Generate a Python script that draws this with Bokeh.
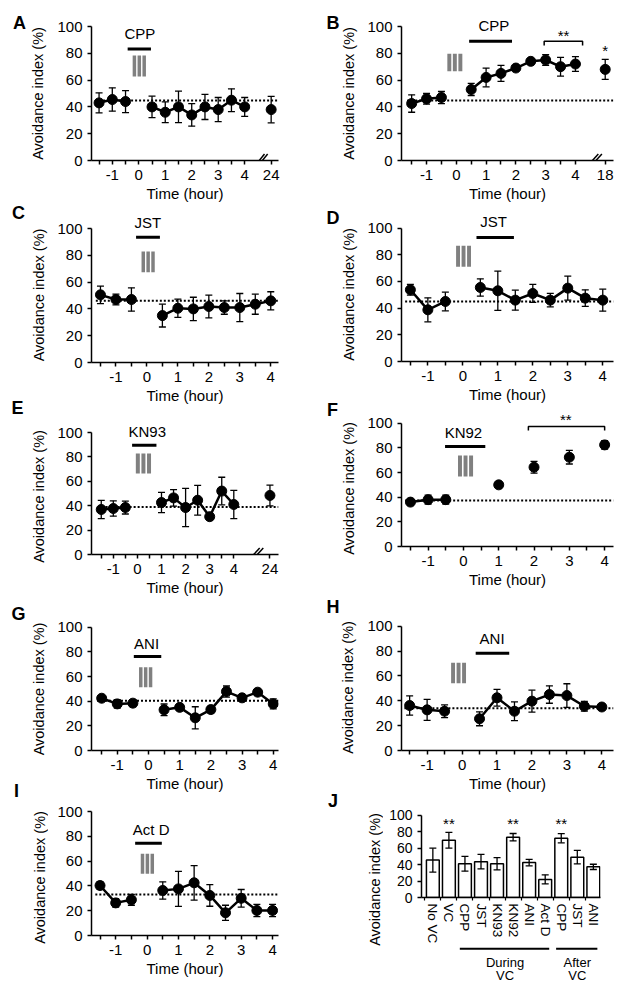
import numpy as np
from bokeh.plotting import figure
from bokeh.models import Range1d, FixedTicker, ColumnDataSource, Whisker, TeeHead
from bokeh.layouts import row, column
from bokeh.embed import file_html
from bokeh.resources import INLINE
from bokeh.core.properties import value

FONT = "Liberation Sans"
GRAY = "#808080"

# ---------------- data ----------------
hours = [-1.5, -1, -0.5, 0.5, 1, 1.5, 2, 2.5, 3, 3.5, 4]
hour_ticks = [-1.5, -1, -0.5, 0, 0.5, 1, 1.5, 2, 2.5, 3, 3.5, 4]
hour_labels = ["", "-1", "", "0", "", "1", "", "2", "", "3", "", "4"]
y_ticks = [0, 20, 40, 60, 80, 100]
Y_LABEL = "Avoidance index (%)"
X_LABEL = "Time (hour)"

A_mean = [43, 45.5, 44, 40, 36, 40, 34, 40, 38, 45, 40]
A_err = [7.5, 8.7, 8.2, 8, 7.7, 11.8, 8.4, 9.4, 9, 8.5, 7]
A_late_label, A_late_mean, A_late_err = "24", 38, 9.9
A_base = 44.8

B_mean = [42.5, 46, 47, 53, 62, 65, 69, 74, 75, 70, 72]
B_err = [6.5, 4, 4.5, 4.5, 7, 6, 2, 2, 4, 7, 5.5]
B_late_label, B_late_mean, B_late_err = "18", 68, 7.5
B_base = 44.8

C_mean = [50.5, 47, 47, 35, 40.5, 40, 41.8, 41, 41, 43.5, 46]
C_err = [6.5, 4, 8.7, 8.5, 6.8, 8.7, 8.5, 5, 10.5, 7.5, 6.8]
C_base = 46

D_mean = [53.75, 38.75, 45, 55.5, 53, 46, 51, 46, 55, 47.5, 46]
D_err = [4, 9, 7, 6.5, 14.75, 7.5, 6.75, 5, 9, 6.25, 8.25]
D_base = 45

E_hours = [-1.5, -1, -0.5, 1, 1.5, 2, 2.5, 3, 3.5, 4]
E_mean = [36.9, 37.7, 38.5, 42.6, 46.4, 38.5, 44.5, 31, 52, 41]
E_err = [7.5, 6.3, 5.3, 8.3, 6.8, 15.7, 12.2, 1.5, 11.3, 11.6]
E_late_label, E_late_mean, E_late_err = "24", 48.4, 8.5
E_base = 39

F_hours = [-1.5, -1, -0.5, 1, 2, 3, 4]
F_mean = [36, 38, 38, 50, 64.3, 72.4, 82.4]
F_err = [1.7, 3.7, 3.7, 1.7, 4.8, 5.5, 3.5]
F_base = 37.3

G_mean = [42.4, 37.8, 38.4, 33, 35, 26.5, 33.2, 47.8, 42.7, 47.3, 37.8]
G_err = [1.8, 3.4, 2.8, 4.7, 1.5, 9, 2.8, 4.5, 1.5, 2.5, 4.1]
G_base = 40.3

H_mean = [36.2, 32.7, 31.6, 25.5, 42.4, 31.6, 39.7, 45, 44.2, 35.6, 35]
H_err = [7.7, 8.4, 5.1, 5.6, 6.7, 7.5, 8.8, 7, 9.5, 4, 2.7]
H_base = 34

I_mean = [40.3, 26.3, 28.8, 36.3, 37.6, 42.5, 32.3, 18.3, 30, 20.2, 20.2]
I_err = [3.1, 3.4, 4.4, 7, 14.1, 13.9, 8.7, 6.1, 7.1, 4.9, 4.9]
I_base = 33

J_names = ["No VC", "VC", "CPP", "JST", "KN93", "KN92", "ANI", "Act D", "CPP", "JST", "ANI"]
J_mean = [45.4, 69.5, 41, 43.5, 41, 73.2, 42.4, 22, 72, 49, 37.2]
J_err = [14.5, 9.5, 9, 8.8, 7.5, 4.5, 3.9, 5.5, 5.6, 8.2, 3.2]
J_sig = ["", "**", "", "", "", "**", "", "", "**", "", ""]
J_groups = [("During", "VC", 3, 8), ("After", "VC", 9, 11)]

# ---------------- layout geometry (page pixels) ----------------
GEOM = {
    "A": dict(fig=(48, 0, 267, 206), fl=88, fr=302, y0=160, y100=26, x0=142.1, pxh=30.3),
    "C": dict(fig=(48, 206, 267, 201), fl=88, fr=303, y0=362, y100=228, x0=151.7, pxh=35.6),
    "E": dict(fig=(48, 407, 267, 193), fl=90.7, fr=278.3, y0=554.3, y100=432.3, x0=136.9, pxh=24.1),
    "G": dict(fig=(48, 600, 267, 196), fl=90.7, fr=305, y0=750, y100=626.7, x0=156.2, pxh=35.7),
    "I": dict(fig=(48, 796, 267, 196), fl=90.7, fr=305, y0=935, y100=811, x0=154.6, pxh=35.9),
    "B": dict(fig=(359, 0, 270, 206), fl=398.3, fr=613, y0=160, y100=26, x0=453.6, pxh=30.2),
    "D": dict(fig=(359, 206, 270, 200), fl=401, fr=616.7, y0=360.7, y100=227.3, x0=463.5, pxh=35.64),
    "F": dict(fig=(359, 406, 270, 186), fl=401, fr=615, y0=546, y100=422.7, x0=463.5, pxh=35.64),
    "H": dict(fig=(359, 592, 270, 203), fl=401, fr=616.7, y0=750, y100=625.7, x0=462.7, pxh=35.6),
    "J": dict(fig=(383, 795, 246, 151), fl=421, fr=600, y0=905.7, y100=816, x0=416.3, pxh=16.05),
}


def base_fig(g):
    left, top, w, h = g["fig"]
    mbl = int(round(g["fl"] - left))
    mbr = int(round(left + w - g["fr"]))
    mbt = 1
    mbb = int(round(top + h - g["y0"]))
    scale = (g["y0"] - g["y100"]) / 100.0
    ymax = (h - mbt - mbb) / scale
    fl = left + mbl
    fr = left + w - mbr
    xs = (fl - g["x0"]) / g["pxh"]
    xe = (fr - g["x0"]) / g["pxh"]
    p = figure(width=w, height=h, x_range=Range1d(xs, xe), y_range=Range1d(0, ymax),
               min_border_left=mbl, min_border_right=mbr, min_border_top=mbt,
               min_border_bottom=mbb, toolbar_location=None, output_backend="svg")
    p.outline_line_color = None
    p.grid.visible = False
    p.background_fill_color = "white"
    p.border_fill_color = "white"
    for ax in p.axis:
        ax.axis_line_width = 1.5
        ax.axis_line_color = "black"
        ax.major_tick_line_width = 1.5
        ax.major_tick_line_color = "black"
        ax.minor_tick_line_color = None
        ax.major_tick_in = 0
        ax.major_tick_out = 4
        ax.major_label_text_font = FONT
        ax.major_label_text_font_size = "15px"
        ax.major_label_text_color = "black"
        ax.axis_label_text_font = FONT
        ax.axis_label_text_font_size = "15px"
        ax.axis_label_text_font_style = "normal"
        ax.axis_label_text_color = "black"
    p.yaxis.ticker = FixedTicker(ticks=y_ticks, minor_ticks=[])
    p.yaxis.bounds = (0, 100)
    p.yaxis.major_label_standoff = 5
    return p, scale


def add_text(p, x, y, t, size="15px"):
    p.text(x=[x], y=[y], text=[t], text_align="center", text_baseline="middle",
           text_font=value(FONT), text_font_size=size, text_color="black")


def time_panel(key, t, mean, err, base, ann, late=None, connect_post=True):
    g = GEOM[key]
    p, scale = base_fig(g)
    pxh = g["pxh"]
    ticks = list(hour_ticks)
    labels = dict(zip(hour_ticks, hour_labels))
    if late is not None:
        ticks.append(late["pos"])
        labels[late["pos"]] = late["label"]
    p.xaxis.ticker = FixedTicker(ticks=ticks, minor_ticks=[])
    p.xaxis.major_label_overrides = labels
    p.xaxis.axis_label = X_LABEL
    p.xaxis.major_label_standoff = 5
    p.xaxis.axis_label_standoff = 2

    t = np.array(t, float)
    m = np.array(mean, float)
    e = np.array(err, float)

    # baseline (dotted)
    p.segment(x0=[t[0] - 0.15], x1=[p.x_range.end], y0=[base], y1=[base],
              line_dash="2 2", line_width=2, line_color="black")

    # error bars
    allx = list(t)
    allm = list(m)
    alle = list(e)
    if late is not None:
        allx.append(late["pos"]); allm.append(late["mean"]); alle.append(late["err"])
    allx = np.array(allx); allm = np.array(allm); alle = np.array(alle)
    src = ColumnDataSource(dict(x=allx, lo=allm - alle, hi=allm + alle))
    w = Whisker(source=src, base="x", lower="lo", upper="hi", line_width=1.3, line_color="black",
                upper_head=TeeHead(size=7, line_width=1.3, line_color="black"),
                lower_head=TeeHead(size=7, line_width=1.3, line_color="black"))
    p.add_layout(w)

    pre = t < 0
    post = t > 0
    p.line(t[pre], m[pre], line_width=2.5, line_color="black")
    if connect_post:
        p.line(t[post], m[post], line_width=2.5, line_color="black")
    p.scatter(allx, allm, size=10, fill_color="black", line_color="black")

    # drug bar and label
    x0, x1, yb = ann["bar"]
    p.segment(x0=[x0], x1=[x1], y0=[yb], y1=[yb], line_width=3, line_color="black")
    tx, ty = ann["text_xy"]
    add_text(p, tx, ty, ann["drug"])
    # vibration symbol (III)
    cx, yb0, yb1 = ann["vib"]
    for k in (-1, 0, 1):
        c = cx + k * 5.6 / pxh
        p.quad(left=[c - 2.0 / pxh], right=[c + 2.0 / pxh], bottom=[yb0], top=[yb1],
               fill_color=GRAY, line_color=None)
    # significance bracket
    if "bracket" in ann:
        bx0, bx1, btop, blow = ann["bracket"]
        p.line([bx0, bx0, bx1, bx1], [blow, btop, btop, blow], line_width=1.5, line_color="black")
    for (sx, sy, st) in ann.get("stars", []):
        add_text(p, sx, sy, st)
    # axis break marks
    if "break" in ann:
        xb = ann["break"]
        for k in (0, 1):
            off = (k * 3.6 - 1.8) / pxh
            p.segment(x0=[xb + off - 6 / pxh], y0=[-6.5 / scale],
                      x1=[xb + off + 6 / pxh], y1=[6.5 / scale],
                      line_width=1.5, line_color="black")
    return p


pA = time_panel("A", hours, A_mean, A_err, A_base,
                dict(drug="CPP", bar=(-0.42, 0.46, 83.3), text_xy=(0.04, 94.5),
                     vib=(0.02, 62.7, 78.4), **{"break": 4.61}),
                late=dict(pos=5, label=A_late_label, mean=A_late_mean, err=A_late_err))
pB = time_panel("B", hours, B_mean, B_err, B_base,
                dict(drug="CPP", bar=(0.43, 1.87, 89), text_xy=(1.26, 100.7),
                     vib=(-0.05, 66.6, 79.6), bracket=(2.95, 4.24, 89, 85.8),
                     stars=[(3.6, 93.2, "**"), (5.0, 82.1, "*")], **{"break": 4.63}),
                late=dict(pos=5, label=B_late_label, mean=B_late_mean, err=B_late_err))
pC = time_panel("C", hours, C_mean, C_err, C_base,
                dict(drug="JST", bar=(-0.35, 0.42, 93.5), text_xy=(0.03, 104.7),
                     vib=(0.04, 67.4, 82.8)))
pD = time_panel("D", hours, D_mean, D_err, D_base,
                dict(drug="JST", bar=(0.39, 1.46, 93), text_xy=(0.88, 104.7),
                     vib=(0.02, 71, 86.7)))
pE = time_panel("E", E_hours, E_mean, E_err, E_base,
                dict(drug="KN93", bar=(-0.22, 0.79, 89.6), text_xy=(0.41, 100.5),
                     vib=(0.25, 66.4, 82.8), **{"break": 4.9}),
                late=dict(pos=5.5, label=E_late_label, mean=E_late_mean, err=E_late_err))
pF = time_panel("F", F_hours, F_mean, F_err, F_base,
                dict(drug="KN92", bar=(-0.52, 0.62, 81.1), text_xy=(0.0, 92.7),
                     vib=(0.06, 56.8, 73.8), bracket=(1.84, 4.0, 97.3, 94.1),
                     stars=[(2.9, 102.6, "**")]),
                connect_post=False)
pG = time_panel("G", hours, G_mean, G_err, G_base,
                dict(drug="ANI", bar=(-0.47, 0.41, 76.2), text_xy=(-0.06, 86.5),
                     vib=(-0.09, 51.3, 67.6)))
pH = time_panel("H", hours, H_mean, H_err, H_base,
                dict(drug="ANI", bar=(0.39, 1.35, 78.3), text_xy=(0.86, 89.9),
                     vib=(-0.1, 54.1, 70.6)))
pI = time_panel("I", hours, I_mean, I_err, I_base,
                dict(drug="Act D", bar=(-0.38, 0.47, 74.4), text_xy=(0.13, 85.2),
                     vib=(0.01, 49.8, 65.9)))

# ---------------- panel J (bars) ----------------
gJ = GEOM["J"]
pJ, sJ = base_fig(gJ)
J_pos = [i + 1 for i in range(len(J_names))]
pJ.vbar(x=J_pos, top=J_mean, width=0.8, bottom=0, fill_color="white",
        line_color="black", line_width=1.5)
jm = np.array(J_mean); je = np.array(J_err)
srcJ = ColumnDataSource(dict(x=J_pos, lo=jm - je, hi=jm + je))
pJ.add_layout(Whisker(source=srcJ, base="x", lower="lo", upper="hi", line_width=1.3,
                      line_color="black", level="overlay",
                      upper_head=TeeHead(size=7, line_width=1.3, line_color="black"),
                      lower_head=TeeHead(size=7, line_width=1.3, line_color="black")))
for xp, s in zip(J_pos, J_sig):
    if s:
        add_text(pJ, xp, 89.5, s)
pJ.xaxis.ticker = FixedTicker(ticks=J_pos, minor_ticks=[x - 0.5 for x in J_pos] + [J_pos[-1] + 0.5])
pJ.xaxis.major_label_overrides = dict(zip(J_pos, J_names))
pJ.xaxis.major_label_orientation = "vertical"
pJ.xaxis.major_tick_out = 0
pJ.xaxis.minor_tick_out = 3
pJ.xaxis.minor_tick_in = 0
pJ.xaxis.minor_tick_line_color = "black"
pJ.xaxis.minor_tick_line_width = 1.2
pJ.xaxis.major_label_standoff = 3
pJ.xaxis.major_label_text_font_size = "13.5px"
pJ.yaxis.major_label_text_font_size = "14px"

# group labels beneath J
pG2 = figure(width=246, height=46, x_range=pJ.x_range, y_range=Range1d(46, 0),
             min_border_left=38, min_border_right=29, min_border_top=0, min_border_bottom=0,
             x_axis_type=None, y_axis_type=None, toolbar_location=None, output_backend="svg")
pG2.outline_line_color = None
pG2.grid.visible = False
for (l1, l2, a, b) in J_groups:
    pG2.segment(x0=[a - 0.32], x1=[b + 0.25], y0=[2.3], y1=[2.3], line_width=2, line_color="black")
    for tt, yy in ((l1, 16), (l2, 29)):
        pG2.text(x=[(a + b) / 2], y=[yy], text=[tt], text_align="center", text_baseline="middle",
                 text_font=value(FONT), text_font_size="13px", text_color="black")


# ---------------- side strips: panel letters and y-axis titles ----------------
def side_fig(w, h, letters, ylabels):
    f = figure(width=w, height=h, x_range=Range1d(0, w), y_range=Range1d(h, 0),
               min_border_left=0, min_border_right=0, min_border_top=0, min_border_bottom=0,
               x_axis_type=None, y_axis_type=None, toolbar_location=None, output_backend="svg")
    f.outline_line_color = None
    f.grid.visible = False
    if letters:
        f.text(x=[l[1] for l in letters], y=[l[2] for l in letters], text=[l[0] for l in letters],
               text_align="center", text_baseline="middle", text_font=value(FONT),
               text_font_size="18px", text_font_style="bold", text_color="black")
    if ylabels:
        f.text(x=[q[0] for q in ylabels], y=[q[1] for q in ylabels], text=[Y_LABEL] * len(ylabels),
               angle=np.pi / 2, text_align="center", text_baseline="middle",
               text_font=value(FONT), text_font_size="14.5px", text_color="black")
    return f

LL = side_fig(48, 992,
              [("A", 19, 22), ("C", 18, 212), ("E", 17, 407), ("G", 18, 613), ("I", 16, 790)],
              [(37.5, 93), (38, 294.5), (38, 496), (38, 688.5), (39, 877)])
LR = side_fig(44, 992,
              [("B", 17.5, 22), ("D", 17.5, 217), ("F", 17, 409), ("H", 17.5, 606), ("J", 17.5, 800)],
              [(33.5, 93), (33, 294), (33, 488), (32.5, 687)])
LJ = side_fig(24, 197, [], [(15.5, 84)])

layout = row(LL, column(pA, pC, pE, pG, pI),
             LR, column(column(pB, pD, pF, pH), row(LJ, column(pJ, pG2))))

open("out.html", "w").write(file_html(layout, INLINE))
